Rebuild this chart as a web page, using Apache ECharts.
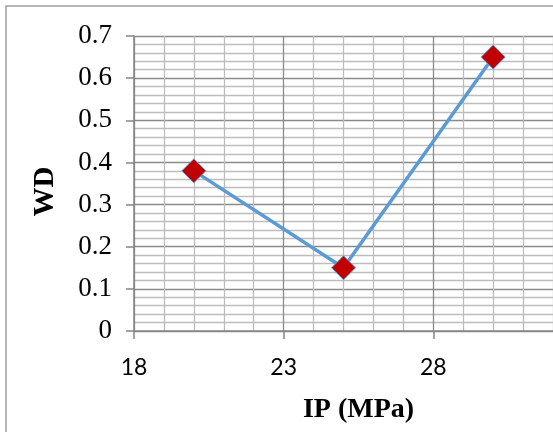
<!DOCTYPE html>
<html>
<head>
<meta charset="utf-8">
<script src="https://cdn.jsdelivr.net/npm/echarts@6/dist/echarts.min.js"></script>
<style>
  html, body { margin: 0; padding: 0; background: #fff; overflow: hidden; width: 553px; height: 432px; }
  /* the plot runs past the right edge of the picture, so the canvas is wider than the window */
  #chart { width: 600px; height: 432px; }
</style>
</head>
<body>
<div id="chart"></div>
<script>
// data
const ipValues = [20, 25, 30];          // IP (MPa)
const wdValues = [0.38, 0.15, 0.65];    // WD
const xTicks = [18, 23, 28];            // labels shown on the x axis
const yTicks = [0, 0.1, 0.2, 0.3, 0.4, 0.5, 0.6, 0.7];

const myChart = echarts.init(document.getElementById('chart'));

const points = ipValues.map((x, i) => [x, wdValues[i]]);

option = {
    backgroundColor: '#fff',
    animation: false,
    // outer frame of the chart area
    graphic: [{
        type: 'rect',
        shape: { x: 6, y: 6, width: 700, height: 600 },
        style: { fill: 'none', stroke: '#9e9e9e', lineWidth: 1.5 },
        silent: true
    }],
    grid: {
        left: 134,
        top: 36,
        right: 17,
        bottom: 101
    },
    xAxis: {
        type: 'value',
        min: 18,
        max: 33,
        interval: 5,
        name: 'IP (MPa)',
        nameLocation: 'middle',
        nameGap: 65,
        nameTextStyle: {
            fontFamily: 'Liberation Serif',
            fontWeight: 'bold',
            fontSize: 28,
            color: '#000'
        },
        axisLine: { onZero: false, lineStyle: { color: '#868686', width: 1.5 } },
        axisTick: { show: true, length: 8, lineStyle: { color: '#868686', width: 1.5 } },
        axisLabel: {
            margin: 25,
            fontFamily: 'Lato',
            fontSize: 23,
            color: '#000',
            formatter: function (v) {
                return xTicks.indexOf(v) >= 0 ? String(v) : '';
            }
        },
        splitLine: { show: true, lineStyle: { color: '#8a8a8a', width: 1.3 } },
        minorTick: { show: false, splitNumber: 5 },
        minorSplitLine: { show: true, lineStyle: { color: '#bdbdbd', width: 1.3 } }
    },
    yAxis: {
        type: 'value',
        min: 0,
        max: 0.7,
        interval: 0.1,
        name: 'WD',
        nameLocation: 'middle',
        nameGap: 74,
        nameRotate: 90,
        nameTextStyle: {
            fontFamily: 'Liberation Serif',
            fontWeight: 'bold',
            fontSize: 29,
            color: '#000',
            padding: [0, 16, 0, 0]
        },
        axisLine: { show: true, lineStyle: { color: '#868686', width: 1.5 } },
        axisTick: { show: true, length: 8, lineStyle: { color: '#868686', width: 1.5 } },
        axisLabel: {
            margin: 22,
            fontFamily: 'Liberation Serif',
            fontSize: 27,
            color: '#000',
            formatter: function (v) {
                return String(Math.round(v * 10) / 10);
            }
        },
        splitLine: { show: true, lineStyle: { color: '#8a8a8a', width: 1.3 } },
        minorTick: { show: false, splitNumber: 5 },
        minorSplitLine: { show: true, lineStyle: { color: '#bdbdbd', width: 1.3 } }
    },
    series: [{
        type: 'line',
        data: points,
        symbol: 'diamond',
        symbolSize: 24,
        lineStyle: { color: '#5b9bd5', width: 3.5 },
        itemStyle: { color: '#c00000', borderColor: '#5b9bd5', borderWidth: 1 },
        z: 5
    }]
};

myChart.setOption(option);
</script>
</body>
</html>
